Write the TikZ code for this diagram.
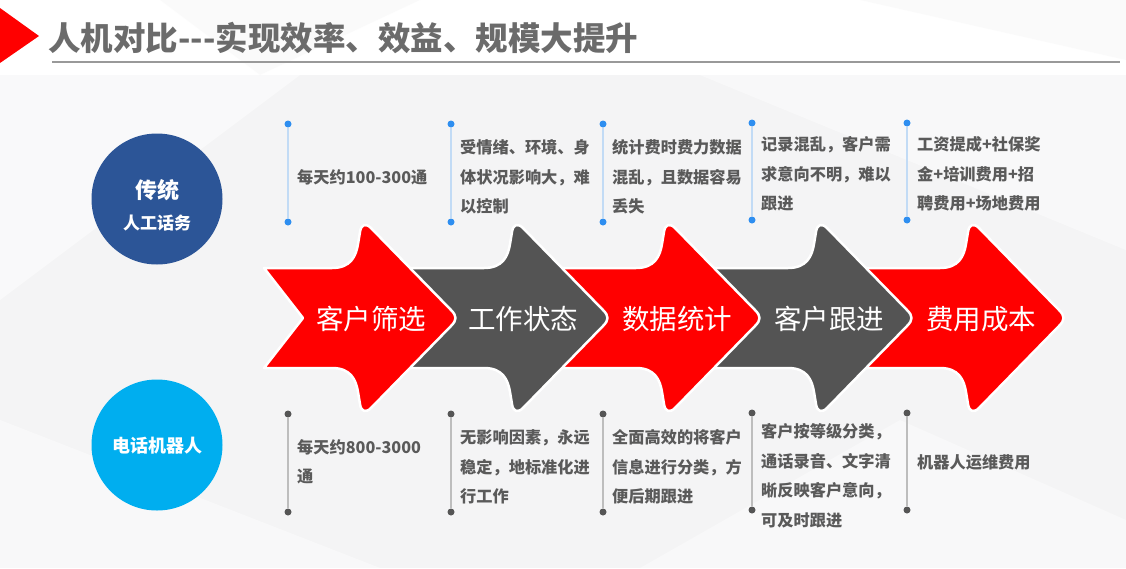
\documentclass[tikz,border=0pt]{standalone}
\usepackage{fontspec}
\setmainfont{Noto Sans CJK SC}
\definecolor{ared}{HTML}{FF0000}
\definecolor{agray}{HTML}{545454}
\definecolor{txt}{HTML}{5A5A5A}
\definecolor{ttl}{HTML}{6B6B6B}
\definecolor{dblue}{HTML}{2C5597}
\definecolor{lblue}{HTML}{00AEEF}
\definecolor{dotblue}{HTML}{2E8EF0}
\definecolor{lineblue}{HTML}{C2DBF5}
\definecolor{dotgray}{HTML}{555555}
\definecolor{linegray}{HTML}{BDBDBD}
\definecolor{bg}{HTML}{F4F4F5}
% #1 peak x, #2 colour, #3 left offset, #4 notch depth
\newcommand\arrowshape[4]{%
  \draw[fill=#2, draw=white, line width=2.5pt, line join=round]
    ({#1+#3},268) -- ({#1+#3+#4},318) -- ({#1+#3},368) -- ({#1-35},368)
    .. controls ({#1-16},368) and ({#1-11},380) .. ({#1-9},392)
    -- ({#1-7},404) .. controls ({#1-6},412) and ({#1-1},413) .. ({#1+4},408)
    -- ({#1+84},326) .. controls ({#1+90},320) and ({#1+90},316) .. ({#1+84},310)
    -- ({#1+4},228) .. controls ({#1-1},223) and ({#1-6},224) .. ({#1-7},232)
    -- ({#1-9},244) .. controls ({#1-11},256) and ({#1-16},268) .. ({#1-35},268)
    -- cycle;}
\tikzset{
  arrowtext/.style={text=white, font=\fontsize{27.5}{30}\selectfont, inner sep=0pt},
  desc/.style={text=txt, anchor=west, align=left, inner sep=0pt, font=\fontsize{16.2}{29.5}\selectfont\bfseries},
  bdot/.style={circle, fill=dotblue, minimum size=7pt, inner sep=0pt},
  gdot/.style={circle, fill=dotgray, minimum size=7pt, inner sep=0pt},
  bline/.style={draw=lineblue, line width=1.4pt},
  gline/.style={draw=linegray, line width=1.4pt},
  circ/.style={circle, inner sep=0pt, minimum size=131pt, text=white, align=center},
}
\begin{document}
\begin{tikzpicture}[x=1pt,y=-1pt]
\useasboundingbox (0,0) rectangle (1126,568);
% background
\fill[bg] (0,0) rectangle (1126,568);
\fill[white] (0,0) rectangle (1126,75);
\fill[white, opacity=0.5] (0,75) -- (300,75) -- (0,300) -- cycle;
\fill[white, opacity=0.45] (700,75) -- (1126,75) -- (1126,250) -- cycle;
\fill[white, opacity=0.45] (0,568) -- (0,420) -- (380,568) -- cycle;
\fill[white, opacity=0.4] (640,568) -- (900,420) -- (1126,520) -- (1126,568) -- cycle;
\fill[black!3, opacity=0.5] (160,0) -- (420,0) -- (260,75) -- cycle;
\fill[black!3, opacity=0.5] (860,0) -- (1126,0) -- (1126,60) -- cycle;
% title
\fill[ared] (0,8) -- (39,36) -- (0,63) -- cycle;
\node[anchor=west, inner sep=0pt, text=ttl, font=\fontsize{32.5}{34}\selectfont\bfseries] (title) at (48,38) {人机对比-{}-{}-实现效率、效益、规模大提升};
\coordinate (rl) at (52,62);
\coordinate (rr) at (1120,62);
\draw[draw=black!40, line width=1.3pt] (rl) -- (rr);
% circles
\node[circ, fill=dblue] (c1) at (157,199) {};
\node[text=white, inner sep=0pt, font=\fontsize{22}{24}\selectfont\bfseries] (c1a) at (157,190) {传统};
\node[text=white, inner sep=0pt, font=\fontsize{17}{20}\selectfont\bfseries] (c1b) at (157,223) {人工话务};
\node[circ, fill=lblue] (c2) at (157,445) {};
\node[text=white, inner sep=0pt, font=\fontsize{18}{20}\selectfont\bfseries] (c2a) at (157,446) {电话机器人};
% arrows, right to left
\arrowshape{975}{ared}{-125}{0}
\arrowshape{823}{agray}{-125}{0}
\arrowshape{671}{ared}{-125}{0}
\arrowshape{519}{agray}{-125}{0}
\arrowshape{367}{ared}{-103}{39}
\node[arrowtext] (a1) at (371,319) {客户筛选};
\node[arrowtext] (a2) at (523,319) {工作状态};
\node[arrowtext] (a3) at (677,319) {数据统计};
\node[arrowtext] (a4) at (829,319) {客户跟进};
\node[arrowtext] (a5) at (981,319) {费用成本};
% top timeline
\foreach \n/\x/\ya/\yb in {1/288/124/222, 2/451/124/222, 3/603/124/222, 4/752/123/220, 5/907/123/220}{
  \node[bdot] (t\n a) at (\x,\ya) {};
  \node[bdot] (t\n b) at (\x,\yb) {};
  \draw[bline] (t\n a) -- (t\n b);
}
\foreach \n/\x/\ya/\yb in {1/288/414/512, 2/451/414/512, 3/603/414/512, 4/752/413/510, 5/907/413/510}{
  \node[gdot] (b\n a) at (\x,\ya) {};
  \node[gdot] (b\n b) at (\x,\yb) {};
  \draw[gline] (b\n a) -- (b\n b);
}
\node[desc] (tt1) at (297,177) {每天约100-300通};
\node[desc] (tt2) at (460,177) {受情绪、环境、身\\体状况影响大，难\\以控制};
\node[desc] (tt3) at (612,177) {统计费时费力数据\\混乱，且数据容易\\丢失};
\node[desc] (tt4) at (761,174) {记录混乱，客户需\\求意向不明，难以\\跟进};
\node[desc] (tt5) at (917,174) {工资提成+社保奖\\金+培训费用+招\\聘费用+场地费用};
\node[desc] (bt1) at (297,462) {每天约800-3000\\通};
\node[desc] (bt2) at (460,467) {无影响因素，永远\\稳定，地标准化进\\行工作};
\node[desc] (bt3) at (612,467) {全面高效的将客户\\信息进行分类，方\\便后期跟进};
\node[desc] (bt4) at (761,476) {客户按等级分类，\\通话录音、文字清\\晰反映客户意向，\\可及时跟进};
\node[desc] (bt5) at (917,462) {机器人运维费用};
\end{tikzpicture}
\end{document}
